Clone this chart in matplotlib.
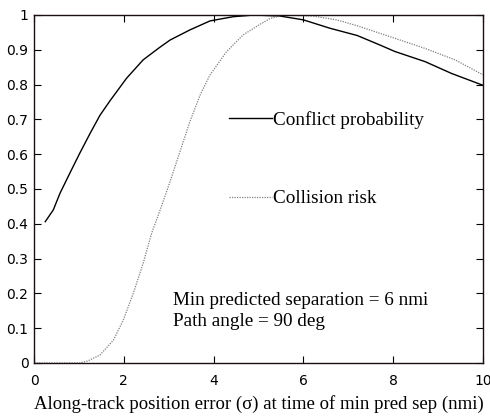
import matplotlib
matplotlib.use("Agg")
import matplotlib.pyplot as plt

# Along-track position error (sigma) in nmi vs. probability
conflict_x = [0.25, 0.43, 0.58, 0.8, 1.02, 1.25, 1.47, 1.69, 2.06, 2.43, 2.8, 3.03,
              3.47, 3.92, 4.43, 4.9, 5.48, 6.0, 6.59, 7.2, 7.7, 8.04, 8.71, 9.3, 10.0]
conflict_p = [0.406, 0.44, 0.488, 0.546, 0.603, 0.66, 0.712, 0.753, 0.818, 0.871,
              0.907, 0.928, 0.957, 0.983, 0.995, 1.0, 0.997, 0.986, 0.962, 0.941,
              0.914, 0.895, 0.866, 0.832, 0.798]

collision_x = [0.0, 1.02, 1.2, 1.47, 1.77, 1.99, 2.21, 2.43, 2.62, 2.81, 3.03, 3.25,
               3.47, 3.7, 3.92, 4.29, 4.66, 5.03, 5.26, 5.55, 6.21, 6.74, 7.2, 8.04,
               8.71, 9.38, 10.0]
collision_r = [0.0, 0.0, 0.006, 0.023, 0.066, 0.124, 0.2, 0.286, 0.373, 0.44, 0.521,
               0.607, 0.693, 0.77, 0.828, 0.895, 0.943, 0.973, 0.99, 1.0, 0.997,
               0.986, 0.969, 0.933, 0.904, 0.871, 0.828]

x_ticks = [0, 2, 4, 6, 8, 10]
y_ticks = [0, 0.1, 0.2, 0.3, 0.4, 0.5, 0.6, 0.7, 0.8, 0.9, 1.0]
y_tick_labels = ["0", "0.1", "0.2", "0.3", "0.4", "0.5", "0.6", "0.7", "0.8", "0.9", "1"]

serif = ["Liberation Serif", "DejaVu Serif"]
sans = ["DejaVu Sans"]
TXT = 13.8

fig = plt.figure(figsize=(4.9, 4.18), dpi=100)
ax = fig.add_axes([34 / 490, 55 / 418, 449 / 490, 348 / 418])

ax.plot(conflict_x, conflict_p, color="black", lw=1.0)
ax.plot(collision_x, collision_r, color="#808080", lw=0.9, linestyle=(0, (1, 1)))

ax.set_xlim(0, 10)
ax.set_ylim(0, 1)
ax.set_xticks(x_ticks)
ax.set_xticklabels([str(t) for t in x_ticks], fontfamily=sans, fontsize=10)
ax.set_yticks(y_ticks)
ax.set_yticklabels(y_tick_labels, fontfamily=sans, fontsize=10)
ax.tick_params(direction="in", length=5, width=0.8, top=True, right=True)
ax.tick_params(axis="x", pad=8)
ax.tick_params(axis="y", pad=4)
for s in ax.spines.values():
    s.set_linewidth(1.0)
    s.set_color("#1a1010")

# In-plot key
ax.plot([4.34, 5.3], [0.704, 0.704], color="black", lw=1.0)
ax.text(5.32, 0.684, "Conflict probability", fontfamily=serif, fontsize=TXT,
        va="baseline", ha="left")
ax.plot([4.34, 5.3], [0.476, 0.476], color="#808080", lw=0.9, linestyle=(0, (1, 1)))
ax.text(5.32, 0.46, "Collision risk", fontfamily=serif, fontsize=TXT,
        va="baseline", ha="left")

ax.text(3.1, 0.167, "Min predicted separation = 6 nmi", fontfamily=serif,
        fontsize=TXT, va="baseline", ha="left")
ax.text(3.1, 0.107, "Path angle = 90 deg", fontfamily=serif,
        fontsize=TXT, va="baseline", ha="left")

fig.text(259 / 490, 1 - 404 / 418,
         "Along-track position error (\u03c3) at time of min pred sep (nmi)",
         fontfamily=serif, fontsize=13.5, ha="center", va="center")

fig.savefig("out.png", dpi=100)
